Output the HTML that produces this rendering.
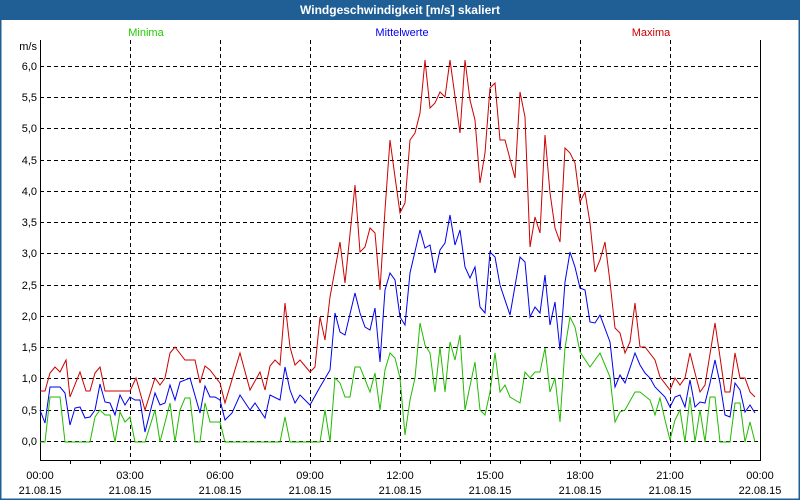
<!DOCTYPE html>
<html><head><meta charset="utf-8"><style>
html,body{margin:0;padding:0;background:#fff;}
svg{display:block;font-family:"Liberation Sans",sans-serif;}
</style></head><body>
<svg width="800" height="500" viewBox="0 0 800 500" xmlns="http://www.w3.org/2000/svg">
<rect x="0" y="0" width="800" height="500" fill="#fff"/>
<rect x="0" y="0" width="800" height="20" fill="#1f5f96"/>
<rect x="0.5" y="0.5" width="799" height="499" fill="none" stroke="#1f5f96" stroke-width="2"/>
<text x="400" y="14" fill="#fff" font-size="12" font-weight="bold" text-anchor="middle">Windgeschwindigkeit [m/s] skaliert</text>
<text x="146" y="36" fill="#22cc00" font-size="11" text-anchor="middle">Minima</text>
<text x="402" y="36" fill="#0000ee" font-size="11" text-anchor="middle">Mittelwerte</text>
<text x="651" y="36" fill="#cc0000" font-size="11" text-anchor="middle">Maxima</text>
<g stroke="#000" stroke-dasharray="4,3" stroke-width="1">
<line x1="40" y1="66.5" x2="760" y2="66.5"/><line x1="40" y1="97.5" x2="760" y2="97.5"/><line x1="40" y1="128.5" x2="760" y2="128.5"/><line x1="40" y1="160.5" x2="760" y2="160.5"/><line x1="40" y1="191.5" x2="760" y2="191.5"/><line x1="40" y1="222.5" x2="760" y2="222.5"/><line x1="40" y1="253.5" x2="760" y2="253.5"/><line x1="40" y1="285.5" x2="760" y2="285.5"/><line x1="40" y1="316.5" x2="760" y2="316.5"/><line x1="40" y1="347.5" x2="760" y2="347.5"/><line x1="40" y1="378.5" x2="760" y2="378.5"/><line x1="40" y1="410.5" x2="760" y2="410.5"/><line x1="40" y1="441.5" x2="760" y2="441.5"/>
<line x1="130.5" y1="40" x2="130.5" y2="460"/><line x1="220.5" y1="40" x2="220.5" y2="460"/><line x1="310.5" y1="40" x2="310.5" y2="460"/><line x1="400.5" y1="40" x2="400.5" y2="460"/><line x1="490.5" y1="40" x2="490.5" y2="460"/><line x1="580.5" y1="40" x2="580.5" y2="460"/><line x1="670.5" y1="40" x2="670.5" y2="460"/>
</g>
<path d="M40.5 40V460.5H760.5V40" fill="none" stroke="#000"/>
<g stroke="#000">
<line x1="70.5" y1="460" x2="70.5" y2="464"/><line x1="100.5" y1="460" x2="100.5" y2="464"/><line x1="130.5" y1="460" x2="130.5" y2="464"/><line x1="160.5" y1="460" x2="160.5" y2="464"/><line x1="190.5" y1="460" x2="190.5" y2="464"/><line x1="220.5" y1="460" x2="220.5" y2="464"/><line x1="250.5" y1="460" x2="250.5" y2="464"/><line x1="280.5" y1="460" x2="280.5" y2="464"/><line x1="310.5" y1="460" x2="310.5" y2="464"/><line x1="340.5" y1="460" x2="340.5" y2="464"/><line x1="370.5" y1="460" x2="370.5" y2="464"/><line x1="400.5" y1="460" x2="400.5" y2="464"/><line x1="430.5" y1="460" x2="430.5" y2="464"/><line x1="460.5" y1="460" x2="460.5" y2="464"/><line x1="490.5" y1="460" x2="490.5" y2="464"/><line x1="520.5" y1="460" x2="520.5" y2="464"/><line x1="550.5" y1="460" x2="550.5" y2="464"/><line x1="580.5" y1="460" x2="580.5" y2="464"/><line x1="610.5" y1="460" x2="610.5" y2="464"/><line x1="640.5" y1="460" x2="640.5" y2="464"/><line x1="670.5" y1="460" x2="670.5" y2="464"/><line x1="700.5" y1="460" x2="700.5" y2="464"/><line x1="730.5" y1="460" x2="730.5" y2="464"/>
</g>
<g font-size="11" fill="#000" text-anchor="end">
<text x="37" y="50">m/s</text>
<text x="37" y="70">6,0</text><text x="37" y="101">5,5</text><text x="37" y="132">5,0</text><text x="37" y="164">4,5</text><text x="37" y="195">4,0</text><text x="37" y="226">3,5</text><text x="37" y="257">3,0</text><text x="37" y="289">2,5</text><text x="37" y="320">2,0</text><text x="37" y="351">1,5</text><text x="37" y="382">1,0</text><text x="37" y="414">0,5</text><text x="37" y="445">0,0</text>
</g>
<g font-size="11" fill="#000" text-anchor="middle">
<text x="40" y="479">00:00</text><text x="130" y="479">03:00</text><text x="220" y="479">06:00</text><text x="310" y="479">09:00</text><text x="400" y="479">12:00</text><text x="490" y="479">15:00</text><text x="580" y="479">18:00</text><text x="670" y="479">21:00</text><text x="760" y="479">00:00</text>
<text x="40" y="494">21.08.15</text><text x="130" y="494">21.08.15</text><text x="220" y="494">21.08.15</text><text x="310" y="494">21.08.15</text><text x="400" y="494">21.08.15</text><text x="490" y="494">21.08.15</text><text x="580" y="494">21.08.15</text><text x="670" y="494">21.08.15</text><text x="760" y="494">22.08.15</text>
</g>
<g fill="none" stroke-width="1">
<polyline stroke="#22bb00" points="40,442 45,442 50,397 60,397 65,442 90,442 95,417 100,410 105,415 110,415 115,442 120,412 125,422 130,417 135,442 145,442 155,410 160,442 170,403 175,442 180,410 185,398 190,398 195,442 200,442 205,403 210,422 220,422 225,442 280,442 285,417 290,442 320,442 325,410 330,442 335,378 340,383 345,397 350,397 355,367 360,367 370,392 375,373 380,410 385,370 390,353 395,358 400,378 405,435 410,400 415,378 420,323 425,345 430,353 435,392 440,347 445,392 450,342 455,360 460,335 465,410 475,362 480,410 485,415 490,392 495,353 500,392 505,385 510,397 520,403 525,372 530,378 535,372 540,372 545,348 550,392 555,378 560,422 565,348 570,317 575,327 580,352 590,367 600,353 610,377 615,422 620,412 625,410 635,392 640,392 650,400 655,415 660,398 665,420 670,440 675,420 680,410 685,442 690,397 695,442 700,410 705,442 710,397 715,397 720,442 730,442 735,403 740,403 745,442 750,422 755,442"/>
<polyline stroke="#0000ee" points="40,410 45,423 50,387 60,387 65,393 70,425 75,408 80,407 85,418 90,417 95,410 100,384 105,402 110,403 115,415 120,395 125,405 130,397 135,400 140,400 145,432 155,393 160,405 165,403 170,385 175,400 180,382 190,378 200,413 205,386 210,397 215,397 220,400 225,420 232,413 240,395 250,410 255,403 265,418 270,395 280,400 285,367 290,390 295,403 300,395 310,405 320,387 330,370 335,313 340,332 345,335 355,293 360,313 365,327 370,330 375,308 380,362 385,290 390,273 395,280 400,317 405,325 410,273 420,230 425,248 430,245 435,273 440,250 445,243 450,215 455,245 460,230 465,267 470,278 475,267 480,307 485,313 490,252 495,257 500,285 510,315 520,257 525,262 530,317 535,307 540,313 545,275 550,325 555,302 560,350 565,282 570,252 575,267 580,288 585,290 590,322 595,323 600,315 610,342 615,387 620,375 625,383 635,353 640,365 645,373 650,378 655,387 665,397 670,407 675,397 680,395 685,407 690,380 695,407 700,402 705,403 710,383 715,360 720,383 725,415 730,417 735,383 740,390 745,412 750,405 755,413"/>
<polyline stroke="#cc0000" points="40,391 45,391 50,373 55,367 60,372 66,360 70,397 80,372 86,391 90,391 95,373 100,367 105,391 130,391 136,378 145,410 155,378 160,385 165,378 170,353 175,347 185,360 195,360 200,383 205,366 210,370 220,383 225,403 240,353 250,390 260,372 265,390 270,366 275,360 280,365 285,303 290,347 295,365 300,360 310,372 315,367 320,317 325,340 330,297 340,242 345,283 355,185 360,252 365,247 370,228 375,233 380,290 385,210 390,140 395,177 400,213 405,203 410,140 415,133 420,113 425,60 430,108 435,103 440,92 445,97 450,60 460,133 465,60 470,100 475,120 480,183 485,153 490,88 495,83 500,140 505,140 515,178 520,92 525,117 530,247 535,217 540,233 545,135 550,193 555,228 560,242 565,148 570,153 575,163 580,202 585,192 590,223 595,272 600,260 605,242 610,282 615,328 620,333 625,353 630,342 635,303 640,347 645,347 655,360 660,377 670,390 675,378 680,385 685,378 690,353 695,373 700,392 705,385 715,323 720,357 725,392 730,392 735,353 740,378 745,378 750,392 755,397"/>
</g>
</svg>
</body></html>
